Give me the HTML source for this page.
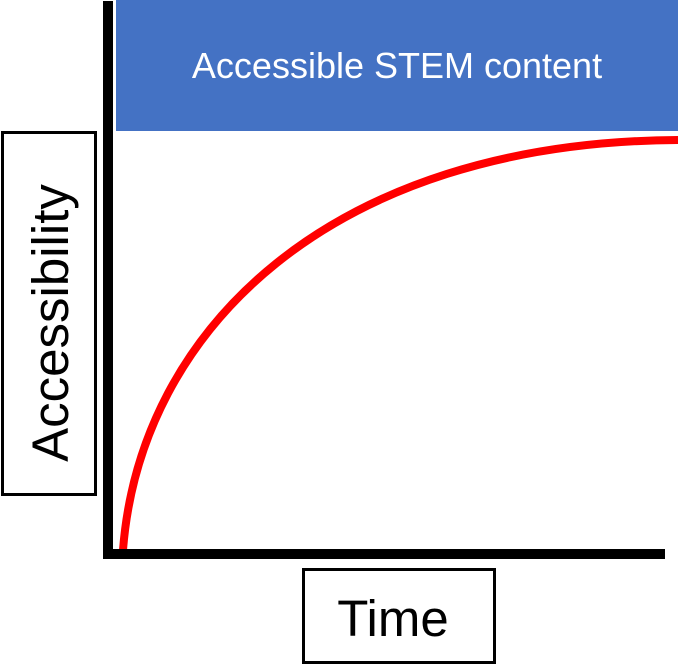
<!DOCTYPE html>
<html><head><style>
html,body{margin:0;padding:0;background:#fff;}
body{width:678px;height:665px;position:relative;overflow:hidden;font-family:"Liberation Sans",sans-serif;}
</style></head><body>
<svg width="678" height="665" style="position:absolute;left:0;top:0">
<rect x="116" y="0" width="562" height="131" fill="#4472c4"/>
<text x="397" y="78" font-size="36" fill="#fff" text-anchor="middle" font-family="Liberation Sans, sans-serif">Accessible STEM content</text>
<rect x="2.5" y="132.5" width="93" height="362" fill="#fff" stroke="#000" stroke-width="3"/>
<text transform="translate(68,323) rotate(-90)" font-size="51" text-anchor="middle" font-family="Liberation Sans, sans-serif">Accessibility</text>
<rect x="303.5" y="569.5" width="191" height="93" fill="#fff" stroke="#000" stroke-width="3"/>
<text x="393" y="636" font-size="51" text-anchor="middle" font-family="Liberation Sans, sans-serif">Time</text>
<path d="M123,550 C140,330 330,142 678,140" fill="none" stroke="#ff0000" stroke-width="8"/>
<rect x="103" y="1" width="10" height="558" fill="#000"/>
<rect x="105" y="549" width="560" height="10" fill="#000"/>
</svg>
</body></html>
